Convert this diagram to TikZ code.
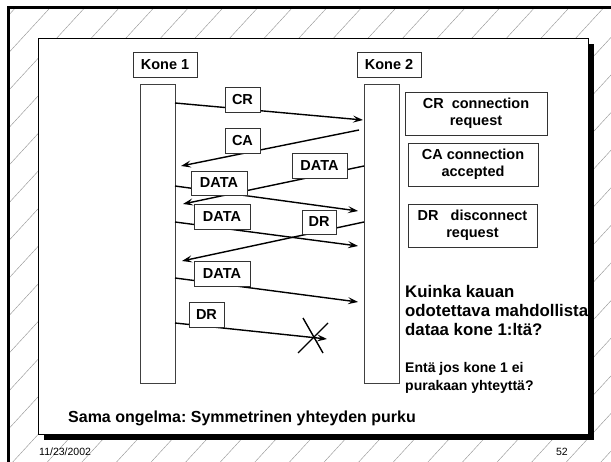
\documentclass[tikz,border=0pt]{standalone}
\usepackage{fontspec}
\setmainfont{Liberation Sans}
\usetikzlibrary{arrows.meta}
\begin{document}
\frenchspacing
\begin{tikzpicture}[x=1pt,y=-1pt,
  hatch/.style={draw=black!40,line width=0.45pt},
  box/.style={draw=black!80,line width=0.8pt,fill=white,inner sep=0pt,
    font=\bfseries\fontsize{14.5}{16}\selectfont},
  lifeline/.style={draw=black!75,line width=0.8pt,fill=white,inner sep=0pt,
    minimum width=35pt,minimum height=299pt},
  legend/.style={box,align=center,minimum height=43pt,
    font=\bfseries\fontsize{14.5}{17.5}\selectfont},
  msg/.style={line width=1.4pt,-{Stealth[length=10pt,width=7pt,inset=4pt]}},
  cross/.style={line width=1.4pt},
  note/.style={anchor=base west,inner sep=0pt,font=\bfseries\fontsize{16.8}{18}\selectfont},
  smallnote/.style={note,font=\bfseries\fontsize{14}{16}\selectfont},
  foot/.style={inner sep=0pt,font=\fontsize{10.5}{12}\selectfont}
]
\useasboundingbox (0,0) rectangle (611,462);
% hatched background
\begin{scope}
  \clip (8,8) rectangle (611,462);
  \foreach \k in {-2,...,30}
    \draw[hatch] ({48+34.6*\k+18.4},-10) -- ({48+34.6*\k-432.4},480);
\end{scope}
\draw[line width=3pt] (8,470) -- (8,8) -- (620,8);
% slide box with shadow
\fill[black] (44,44) rectangle (594,440);
\draw[fill=white,line width=0.8pt] (38,38) rectangle (588,434);
% headers and lifelines
\node[box,minimum width=64pt,minimum height=25pt] (k1) at (165,64.5) {Kone 1};
\node[box,minimum width=64pt,minimum height=25pt] (k2) at (389,64.5) {Kone 2};
\node[lifeline] (l1) at (157.5,233.5) {};
\node[lifeline] (l2) at (381.5,233.5) {};
% message end points
\coordinate (a1) at (175,103);  \coordinate (b1) at (363,120);
\coordinate (a2) at (359,130);  \coordinate (b2) at (181,166);
\coordinate (a3) at (364,166);  \coordinate (b3) at (183,204);
\coordinate (a4) at (175,186);  \coordinate (b4) at (358,211);
\coordinate (a5) at (175,222);  \coordinate (b5) at (358,246);
\coordinate (a6) at (364,222);  \coordinate (b6) at (182,261);
\coordinate (a7) at (175,278);  \coordinate (b7) at (358,302);
\coordinate (a8) at (175,323);  \coordinate (b8) at (327,339);
\coordinate (x1) at (303,318);  \coordinate (x2) at (323,353);
\coordinate (x3) at (328,323);  \coordinate (x4) at (298,353);
\foreach \i in {1,...,8} \draw[msg] (a\i) -- (b\i);
\draw[cross] (x1) -- (x2);
\draw[cross] (x3) -- (x4);
% message labels
\node[box,minimum width=35pt,minimum height=25pt] (cr) at (242.5,99.5) {CR};
\node[box,minimum width=35pt,minimum height=25pt] (ca) at (242.5,140.5) {CA};
\node[box,minimum width=55pt,minimum height=25pt] (da) at (319.5,165.5) {DATA};
\node[box,minimum width=56pt,minimum height=24pt] (db) at (219,183) {DATA};
\node[box,minimum width=56pt,minimum height=25pt] (dc) at (222,217) {DATA};
\node[box,minimum width=34pt,minimum height=24pt] (dra) at (319,222) {DR};
\node[box,minimum width=56pt,minimum height=25pt] (dd) at (222,273.5) {DATA};
\node[box,minimum width=35pt,minimum height=25pt] (drb) at (206.5,314.5) {DR};
% legend
\node[legend,minimum width=142pt] (lg1) at (476,113.5) {CR\ \ connection\\request};
\node[legend,minimum width=130pt] (lg2) at (473,164.5) {CA connection\\accepted};
\node[legend,minimum width=129pt] (lg3) at (472.5,225.5) {DR\ \ \ disconnect\\request};
% notes
\node[note] (q1) at (405,298) {Kuinka kauan};
\node[note] (q2) at (405,317) {odotettava mahdollista};
\node[note] (q3) at (405,336) {dataa kone 1:ltä?};
\node[smallnote] (q4) at (405,373) {Entä jos kone 1 ei};
\node[smallnote] (q5) at (405,391) {purakaan yhteyttä?};
\node[note,font=\bfseries\fontsize{16}{18}\selectfont] (q6) at (68,423) {Sama ongelma: Symmetrinen yhteyden purku};
% footer
\node[foot,anchor=base west] (date) at (39,456) {11/23/2002};
\node[foot,anchor=base east] (page) at (568,456) {52};
\end{tikzpicture}
\end{document}
